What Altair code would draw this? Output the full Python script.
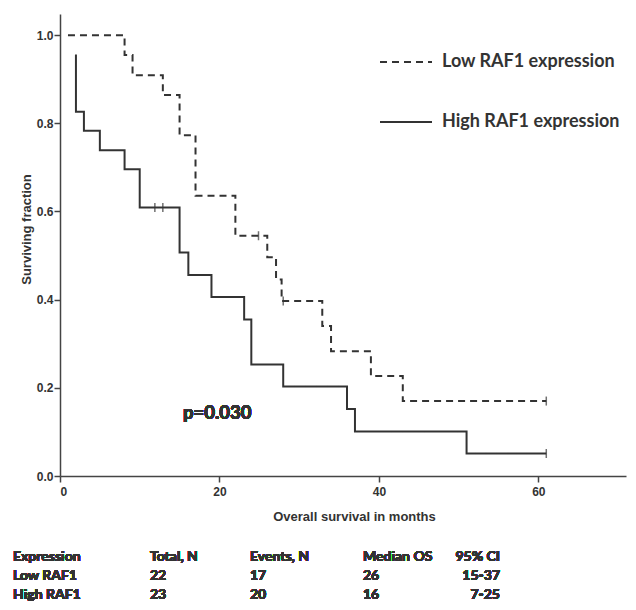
import altair as alt
import pandas as pd

# Kaplan-Meier step points (time in months, surviving fraction after the step)
low_t = [1, 8.1, 9.1, 12.9, 15, 17, 22, 26, 27.1, 27.8, 32.9, 34, 39, 43, 61]
low_s = [1.0, 0.955, 0.909, 0.864, 0.773, 0.636, 0.545, 0.496, 0.446, 0.397, 0.340, 0.283, 0.227, 0.170, 0.170]
high_t = [2, 2, 3, 5, 8.1, 10, 15, 16.1, 19, 23.1, 24, 28, 36, 37, 51, 61]
high_s = [0.956, 0.826, 0.783, 0.739, 0.696, 0.609, 0.507, 0.456, 0.406, 0.355, 0.253, 0.203, 0.152, 0.101, 0.051, 0.051]

# censored observations
low_cens_t = [24.9, 28, 61]
low_cens_s = [0.545, 0.397, 0.170]
high_cens_t = [11.9, 12.9, 61]
high_cens_s = [0.609, 0.609, 0.051]

groups = ["Low RAF1 expression", "High RAF1 expression"]

# summary table
col_expression = ["Expression", "Low RAF1", "High RAF1"]
col_total = ["Total, N", "22", "23"]
col_events = ["Events, N", "17", "20"]
col_median = ["Median OS", "26", "16"]
col_ci = ["95% CI", "15-37", "7-25"]

rows = []
for i, (t, s) in enumerate(zip(low_t, low_s)):
    rows.append({"t": t, "s": s, "g": groups[0], "o": i})
for i, (t, s) in enumerate(zip(high_t, high_s)):
    rows.append({"t": t, "s": s, "g": groups[1], "o": i})
curves = pd.DataFrame(rows)

cens = pd.DataFrame(
    [{"t": t, "s": s} for t, s in zip(low_cens_t, low_cens_s)]
    + [{"t": t, "s": s} for t, s in zip(high_cens_t, high_cens_s)]
)

INK = "#333333"
AXF = "Liberation Sans"
TXF = "Lato"

xscale = alt.Scale(domain=[0, 71], nice=False, zero=False)
yscale = alt.Scale(domain=[0, 1.048], nice=False)

xaxis = alt.Axis(values=[0, 20, 40, 60], title="Overall survival in months", grid=False,
                 labelFont=AXF, labelFontWeight="bold", labelFontSize=12, labelColor=INK,
                 titleFont=AXF, titleFontWeight="bold", titleFontSize=13, titleColor=INK,
                 domainColor="#444444", domainWidth=1.5, tickColor="#444444", tickWidth=1.5,
                 tickSize=6, labelPadding=4, titlePadding=13, titleX=294)
yaxis = alt.Axis(values=[0, 0.2, 0.4, 0.6, 0.8, 1.0], format=".1f", title="Surviving fraction",
                 grid=False, labelFont=AXF, labelFontWeight="bold", labelFontSize=12,
                 labelColor=INK, titleFont=AXF, titleFontWeight="bold", titleFontSize=13,
                 titleColor=INK, domainColor="#444444", domainWidth=1.5, tickColor="#444444",
                 tickWidth=1.5, tickSize=6, labelPadding=1, titlePadding=3, titleY=215)

lines = alt.Chart(curves).mark_line(interpolate="step-after", strokeWidth=2, color=INK).encode(
    x=alt.X("t:Q", scale=xscale, axis=xaxis),
    y=alt.Y("s:Q", scale=yscale, axis=yaxis),
    strokeDash=alt.StrokeDash(
        "g:N",
        scale=alt.Scale(domain=groups, range=[[7, 5], [1, 0]]),
        legend=alt.Legend(title=None, orient="none", legendX=319, legendY=21,
                          symbolType="stroke", symbolSize=2704, symbolStrokeWidth=2,
                          symbolStrokeColor=INK, labelFont=TXF, labelFontWeight="bold",
                          labelFontSize=18, labelColor=INK, rowPadding=24, labelOffset=9,
                          labelLimit=400),
    ),
    detail="g:N",
    order="o:Q",
)

ticks = alt.Chart(cens).mark_tick(orient="vertical", size=9, thickness=1.5, color=INK).encode(
    x=alt.X("t:Q", scale=xscale),
    y=alt.Y("s:Q", scale=yscale),
)

ptext = alt.Chart(curves).mark_text(
    text="p=0.030", align="left", baseline="middle", font=TXF, fontWeight="bold",
    fontSize=18.5, color=INK
).encode(x=alt.value(123), y=alt.value(399))


def cell(value, xpos, ypos, align="left"):
    return alt.Chart(curves).mark_text(
        align=align, baseline="alphabetic", font=TXF, fontWeight="bold", fontSize=14,
        color=INK, text=value
    ).encode(x=alt.value(xpos), y=alt.value(ypos))


table_layers = []
row_y = [547, 566, 585]
for values, xpos, align in [(col_expression, -47, "left"), (col_total, 90, "left"),
                            (col_events, 190, "left"), (col_median, 303, "left"),
                            (col_ci, 440, "right")]:
    for v, yy in zip(values, row_y):
        table_layers.append(cell(v, xpos, yy, align))

chart = alt.layer(lines, ticks, ptext, *table_layers).properties(
    width=566, height=462,
    background="white",
    autosize=alt.AutoSizeParams(type="none"),
    padding={"left": 52, "top": 6, "right": 2, "bottom": 126},
).configure_view(stroke="transparent", strokeWidth=0)

chart.save("out.html", embed_options={"renderer": "svg", "actions": False})
